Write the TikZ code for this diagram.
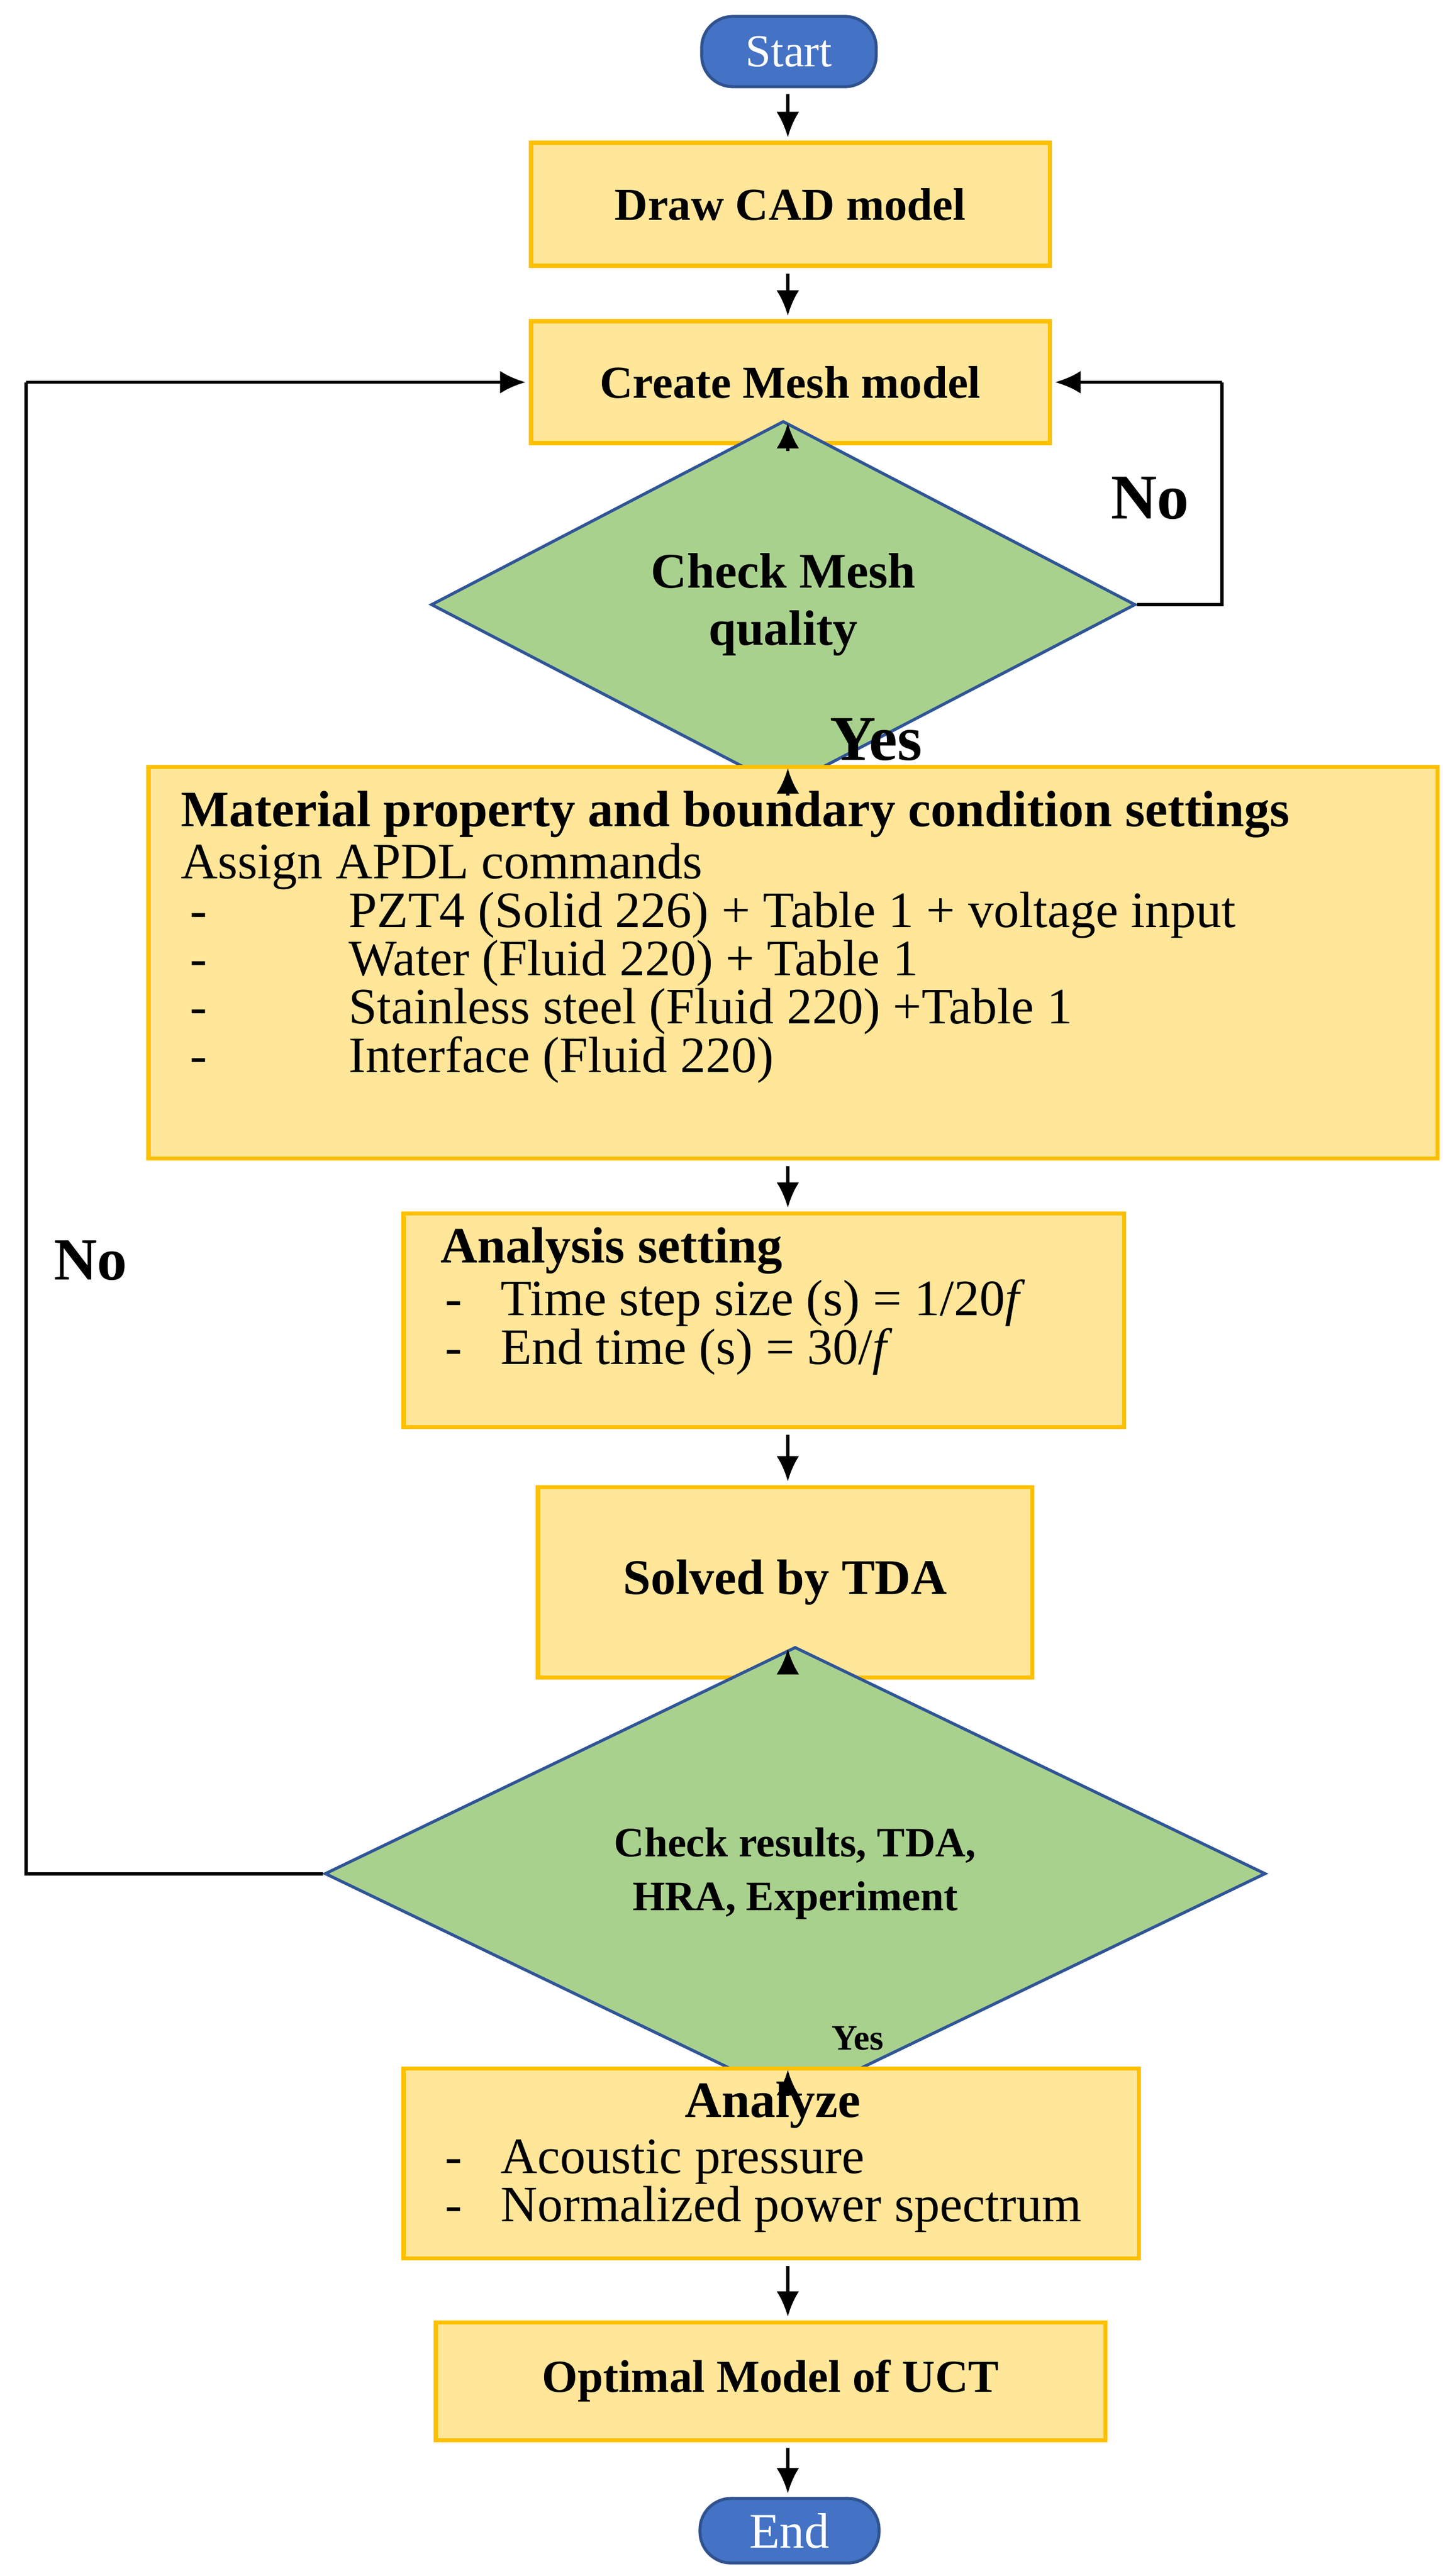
\documentclass[tikz,border=0pt]{standalone}
\usepackage{fontspec}
\setmainfont{Liberation Serif}
\usetikzlibrary{shapes.geometric,arrows.meta}
\definecolor{boxfill}{HTML}{FFE699}
\definecolor{boxdraw}{HTML}{FFC000}
\definecolor{dfill}{HTML}{A9D18E}
\definecolor{ddraw}{HTML}{2F5597}
\definecolor{tfill}{HTML}{4472C4}
\definecolor{tdraw}{HTML}{2F528F}
\newcommand{\bigf}{\fontsize{25.6}{29.6}\selectfont}
\newcommand{\dsh}{\makebox[2.8cm][l]{-}}
\begin{document}
\begin{tikzpicture}[
  box/.style={rectangle, fill=boxfill, draw=boxdraw, line width=2pt, inner sep=0pt},
  dec/.style={diamond, fill=dfill, draw=ddraw, line width=1.5pt, inner sep=0pt, align=center, font=\bfseries},
  term/.style={rectangle, rounded corners=0.55cm, fill=tfill, draw=tdraw, line width=1.5pt, text=white, inner sep=0pt, font=\fontsize{23}{26}\selectfont},
  arr/.style={line width=1.7pt, -{Latex[length=0.45cm,width=0.4cm]}, shorten >=0.06cm, shorten <=0.1cm},
  ln/.style={line width=1.7pt},
  txt/.style={inner sep=0pt, align=left, anchor=north west}
]
\useasboundingbox (0,0) rectangle (25.46,-45.46);
\coordinate (ax) at (13.9,0);
\node[term, minimum width=3.08cm, minimum height=1.24cm] (start) at (13.92,-0.91) {Start};
\node[box, minimum width=9.15cm, minimum height=2.17cm, font=\fontsize{23}{27}\selectfont\bfseries] (cad) at (13.945,-3.605) {Draw CAD model};
\node[box, minimum width=9.15cm, minimum height=2.15cm, font=\fontsize{23}{27}\selectfont\bfseries] (mesh) at (13.945,-6.745) {Create Mesh model};
\node[dec, minimum width=12.43cm, minimum height=3.71cm, font=\fontsize{25}{29}\selectfont\bfseries] (d1) at (13.82,-10.67) {Check Mesh\\quality};
\node[box, minimum width=22.74cm, minimum height=6.91cm] (mat) at (13.99,-16.985) {};
\node[txt] (matt) at (3.19,-13.95) {\bigf\textbf{Material property and boundary condition settings}\\[2pt]
\bigf Assign APDL commands\\
\bigf \hspace*{0.16cm}\dsh PZT4 (Solid 226) + Table 1 + voltage input\\
\bigf \hspace*{0.16cm}\dsh Water (Fluid 220) + Table 1\\
\bigf \hspace*{0.16cm}\dsh Stainless steel (Fluid 220) +Table 1\\
\bigf \hspace*{0.16cm}\dsh Interface (Fluid 220)};
\node[box, minimum width=12.71cm, minimum height=3.77cm] (ana) at (13.475,-23.295) {};
\node[txt] (anat) at (7.77,-21.65) {\bigf\textbf{Analysis setting}\\[2pt]
\bigf \hspace*{0.08cm}\makebox[0.98cm][l]{-}Time step size (s) = 1/20\textit{f}\\
\bigf \hspace*{0.08cm}\makebox[0.98cm][l]{-}End time (s) = 30/\textit{f}};
\node[box, minimum width=8.72cm, minimum height=3.36cm, font=\fontsize{25}{29}\selectfont\bfseries] (tda) at (13.85,-27.92) {Solved by TDA};
\node[dec, minimum width=16.6cm, minimum height=4.99cm, font=\fontsize{21}{27}\selectfont\bfseries] (d2) at (14.03,-33.065) {Check results, TDA,\\HRA, Experiment};
\node[box, minimum width=12.97cm, minimum height=3.35cm] (anz) at (13.605,-38.175) {};
\node[inner sep=0pt, font=\bigf\bfseries] (anzh) at (13.63,-37.15) {Analyze};
\node[txt] (anzt) at (7.77,-37.75) {\bigf \hspace*{0.08cm}\makebox[0.98cm][l]{-}Acoustic pressure\\
\bigf \hspace*{0.08cm}\makebox[0.98cm][l]{-}Normalized power spectrum};
\node[box, minimum width=11.81cm, minimum height=2.08cm, font=\fontsize{23}{27}\selectfont\bfseries] (opt) at (13.595,-42.02) {Optimal Model of UCT};
\node[term, minimum width=3.16cm, minimum height=1.14cm, font=\fontsize{25}{28}\selectfont] (end) at (13.93,-44.66) {End};

\draw[arr] (start.south -| ax) -- (cad.north -| ax);
\draw[arr] (cad.south -| ax) -- (mesh.north -| ax);
\draw[arr] (mesh.south -| ax) -- (d1.north -| ax);
\draw[arr] (d1.south -| ax) -- (mat.north -| ax);
\draw[arr] (mat.south -| ax) -- (ana.north -| ax);
\draw[arr] (ana.south -| ax) -- (tda.north -| ax);
\draw[arr] (tda.south -| ax) -- (d2.north -| ax);
\draw[arr] (d2.south -| ax) -- (anz.north -| ax);
\draw[arr] (anz.south -| ax) -- (opt.north -| ax);
\draw[arr] (opt.south -| ax) -- (end.north -| ax);

\coordinate (r1) at (21.56,-10.67);
\coordinate (r2) at (21.56,-6.745);
\draw[ln] (d1.east) -- (r1) -- (r2);
\draw[arr, shorten <=0pt] (r2) -- (mesh.east);
\coordinate (l1) at (0.46,-33.065);
\coordinate (l2) at (0.46,-6.745);
\draw[ln] (d2.west) -- (l1) -- (l2);
\draw[arr, shorten <=0pt] (l2) -- (mesh.west);

\node[font=\fontsize{32}{36}\selectfont\bfseries] (no1) at (20.29,-8.79) {No};
\node[font=\fontsize{30}{34}\selectfont\bfseries] (no2) at (1.60,-22.24) {No};
\node[font=\fontsize{32}{36}\selectfont\bfseries] (yes1) at (15.46,-13.05) {Yes};
\node[font=\fontsize{18}{22}\selectfont\bfseries] (yes2) at (15.13,-35.97) {Yes};
\end{tikzpicture}
\end{document}
